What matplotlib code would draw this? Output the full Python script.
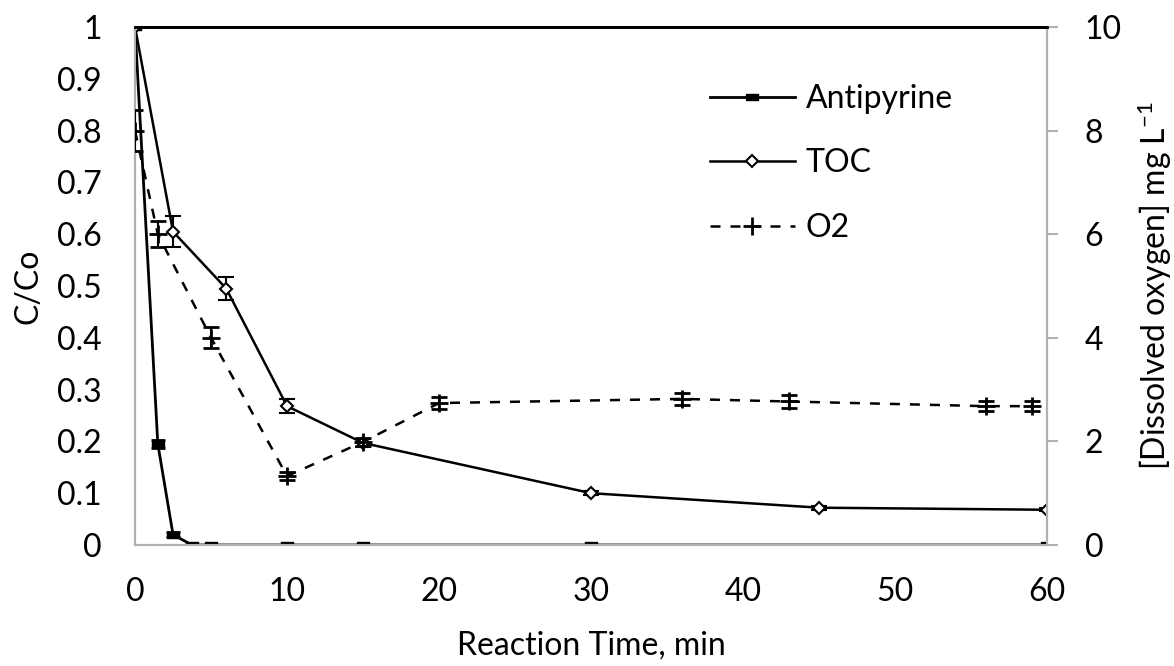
import matplotlib
matplotlib.use("Agg")
import matplotlib.pyplot as plt
from matplotlib.lines import Line2D

plt.rcParams["font.family"] = ["Lato", "DejaVu Sans"]
plt.rcParams["mathtext.fontset"] = "custom"
plt.rcParams["mathtext.rm"] = "Lato"
plt.rcParams["mathtext.it"] = "Lato"

# Данные: антипирин
anti_t = [0, 1.5, 2.5, 3.75, 5, 10, 15, 30, 60]
anti_c = [1.0, 0.195, 0.02, 0.0, 0.0, 0.0, 0.0, 0.0, 0.0]
anti_err = [0.0, 0.008, 0.005, 0.0, 0.0, 0.0, 0.0, 0.0, 0.0]

# Данные: TOC
toc_t = [0, 2.5, 6, 10, 15, 30, 45, 60]
toc_c = [1.0, 0.605, 0.495, 0.268, 0.197, 0.1, 0.072, 0.068]
toc_err = [0.0, 0.03, 0.022, 0.014, 0.008, 0.004, 0.004, 0.003]

# Данные: растворённый кислород
o2_t = [0, 1.5, 5, 10, 15, 20, 36, 43, 56, 59]
o2_v = [8.0, 6.0, 4.0, 1.33, 1.99, 2.74, 2.82, 2.77, 2.68, 2.68]
o2_err = [0.4, 0.25, 0.2, 0.08, 0.08, 0.12, 0.12, 0.12, 0.1, 0.1]

FS = 23

fig = plt.figure(figsize=(11.74, 6.66), dpi=100)
ax = fig.add_axes([0.115, 0.1817, 0.777, 0.7778])
ax2 = ax.twinx()

rect = [(-2, -1), (2, -1), (2, 1), (-2, 1), (-2, -1)]

# Кривая антипирина
ax.errorbar(anti_t, anti_c, yerr=anti_err, color="k", lw=2, marker=rect,
            ms=9, mfc="k", mec="k", capsize=5, capthick=2, elinewidth=1.5,
            zorder=4)

# Кривая TOC
ax.errorbar(toc_t, toc_c, yerr=toc_err, color="k", lw=1.8, marker="D",
            ms=6, mfc="white", mec="k", mew=1.5, capsize=5.5, capthick=2,
            elinewidth=1.5, zorder=4)

# Кривая кислорода
ax2.errorbar(o2_t, o2_v, yerr=o2_err, color="k", lw=1.8, ls=(0, (4, 4)),
             marker="+", ms=13, mew=2, capsize=5.5, capthick=2,
             elinewidth=1.5, zorder=4)

ax.set_xlim(0, 60)
ax.set_ylim(0, 1)
ax2.set_ylim(0, 10)

ax.set_xticks(range(0, 61, 10))
ax.set_yticks([i / 10 for i in range(11)])
ax.set_yticklabels(["0"] + [f"{i / 10:.1f}" for i in range(1, 10)] + ["1"])
ax2.set_yticks(range(0, 11, 2))

ax.tick_params(axis="y", length=0, labelsize=FS, pad=24)
ax.tick_params(axis="x", length=0, labelsize=FS, pad=23)
ax2.tick_params(axis="y", length=8, color="#b0b0b0", width=1.5,
                labelsize=FS, pad=19)

for a in (ax, ax2):
    for s in ("left", "right", "bottom"):
        a.spines[s].set_color("#b0b0b0")
        a.spines[s].set_linewidth(1.5)
    a.spines["top"].set_color("k")
    a.spines["top"].set_linewidth(2)

ax.set_xlabel("Reaction Time, min", fontsize=FS, labelpad=17)
ax.set_ylabel("C/Co", fontsize=FS, labelpad=10)
ax2.set_ylabel("[Dissolved oxygen] mg L$^{\\mathregular{-1}}$", fontsize=FS,
               labelpad=10)

# Легенда
handles = [
    Line2D([], [], color="k", lw=2, marker=rect, ms=9, mfc="k", mec="k"),
    Line2D([], [], color="k", lw=1.8, marker="D", ms=6, mfc="white",
           mec="k", mew=1.5),
    Line2D([], [], color="k", lw=1.8, ls=(0, (4, 4)), marker="+", ms=13,
           mew=2),
]
ax2.legend(handles, ["Antipyrine", "TOC", "O2"], loc="upper left",
           bbox_to_anchor=(710 / 1174, 1 - 84 / 666),
           bbox_transform=fig.transFigure, borderpad=0, borderaxespad=0,
           frameon=False, fontsize=FS, labelspacing=1.08, handlelength=2.65,
           handletextpad=0.35)

fig.savefig("out.png", dpi=100)
